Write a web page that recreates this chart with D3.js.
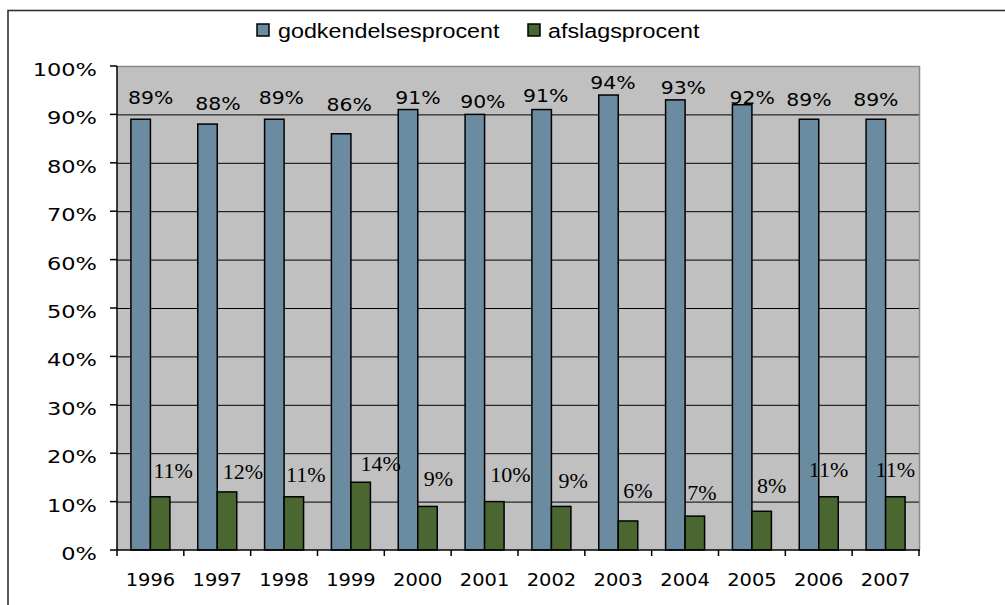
<!DOCTYPE html>
<html><head><meta charset="utf-8">
<script src="https://cdn.jsdelivr.net/npm/d3@7/dist/d3.min.js"></script>
<style>body{margin:0;background:#fff}svg{display:block}</style>
</head><body><svg id="c" width="1005" height="605"></svg>
<script>
const years = ["1996","1997","1998","1999","2000","2001","2002","2003","2004","2005","2006","2007"];
const godkendelse = [89,88,89,86,91,90,91,94,93,92,89,89];
const afslag = [11,12,11,14,9,10,9,6,7,8,11,11];
const seriesNames = ["godkendelsesprocent","afslagsprocent"];
const yTicks = [0,10,20,30,40,50,60,70,80,90,100];
// label nudges (px) relative to bar centre / bar top, as placed in the original
const blueDx = [10,10.5,7,8,10,8,4,4.5,8,10,0,0];
const blueDy = [-15,-14,-15,-23,-6,-6,-8,-6,-6,-1,-13,-13];
const greenDx = [13,16,12,20,11,16,12,10,7,10,0,0];
const greenDy = [-19,-13,-15,-11,-20,-20,-18,-23,-16,-18,-20,-20];

const colors = ["#6B8CA0","#4A6731"];
const svg = d3.select("#c");
const L=117, R=919, T=66, B=550;

// outer frame
svg.append("rect").attr("x",8).attr("y",10.5).attr("width",1100).attr("height",700)
  .attr("fill","none").attr("stroke","#333").attr("stroke-width",1.6);

const x = d3.scaleBand().domain(years).range([L,R]).padding(0);
const y = d3.scaleLinear().domain([0,100]).range([B,T]);
const barW = 19.5;
const xs = d3.scaleBand().domain(seriesNames).range([-barW, barW]);

svg.append("rect").attr("x",L).attr("y",T).attr("width",R-L).attr("height",B-T).attr("fill","#C0C0C0");
// gridlines
svg.append("g").selectAll("line").data(yTicks.filter(d=>d>0&&d<100)).join("line")
  .attr("x1",L).attr("x2",R).attr("y1",d=>y(d)+0.5).attr("y2",d=>y(d)+0.5)
  .attr("stroke","#000").attr("stroke-width",1);
// plot border top/right
svg.append("path").attr("d",`M${L},${T+0.5}H${R+0.5}V${B}`).attr("fill","none").attr("stroke","#888").attr("stroke-width",1.5);

const data = [godkendelse, afslag];
data.forEach((vals,si)=>{
  svg.append("g").selectAll("rect").data(vals).join("rect")
    .attr("x",(d,i)=>x(years[i])+x.bandwidth()/2+xs(seriesNames[si]))
    .attr("y",d=>y(d)).attr("width",barW).attr("height",d=>B-y(d))
    .attr("fill",colors[si]).attr("stroke","#000").attr("stroke-width",1.5);
});

// axes
svg.append("line").attr("x1",L).attr("x2",L).attr("y1",T).attr("y2",B).attr("stroke","#000").attr("stroke-width",1.5);
svg.append("line").attr("x1",L).attr("x2",R+1).attr("y1",B).attr("y2",B).attr("stroke","#000").attr("stroke-width",1.5);
svg.append("g").selectAll("line").data(yTicks).join("line")
  .attr("x1",L-7).attr("x2",L).attr("y1",d=>y(d)).attr("y2",d=>y(d)).attr("stroke","#000").attr("stroke-width",1.5);
const bounds = years.map(d=>x(d)).concat([R]);
svg.append("g").selectAll("line").data(bounds).join("line")
  .attr("x1",d=>d).attr("x2",d=>d).attr("y1",B).attr("y2",B+6).attr("stroke","#000").attr("stroke-width",1.5);

function txt(g, tx, ty, s, opts){
  return g.append("text").attr("transform",`translate(${tx},${ty}) scale(${opts.sx},1)`)
    .attr("text-anchor",opts.anchor||"middle").attr("font-family",opts.font)
    .attr("font-size",opts.size).attr("fill","#000").text(s);
}
const g = svg.append("g");
yTicks.forEach(t=>txt(g,97,y(t)+10,t+"%",{sx:1.25,size:18,font:"DejaVu Sans",anchor:"end"}));
years.forEach(yr=>txt(g,x(yr)+x.bandwidth()/2,586,yr,{sx:1.08,size:18,font:"DejaVu Sans"}));

godkendelse.forEach((v,i)=>{
  const cx = x(years[i])+x.bandwidth()/2+xs(seriesNames[0])+barW/2;
  txt(g,cx+blueDx[i],y(v)+blueDy[i],v+"%",{sx:1.2,size:17,font:"DejaVu Sans"});
});
afslag.forEach((v,i)=>{
  const cx = x(years[i])+x.bandwidth()/2+xs(seriesNames[1])+barW/2;
  txt(g,cx+greenDx[i],y(v)+greenDy[i],v+"%",{sx:1.1,size:20,font:"Liberation Serif"});
});

// legend
const leg = [{x:257,tx:278},{x:528,tx:548}];
seriesNames.forEach((n,i)=>{
  svg.append("rect").attr("x",leg[i].x).attr("y",24).attr("width",12).attr("height",12)
    .attr("fill",colors[i]).attr("stroke","#000").attr("stroke-width",1.5);
  txt(svg,leg[i].tx,38,n,{sx:1.11,size:21,font:"Liberation Sans",anchor:"start"});
});
</script></body></html>
